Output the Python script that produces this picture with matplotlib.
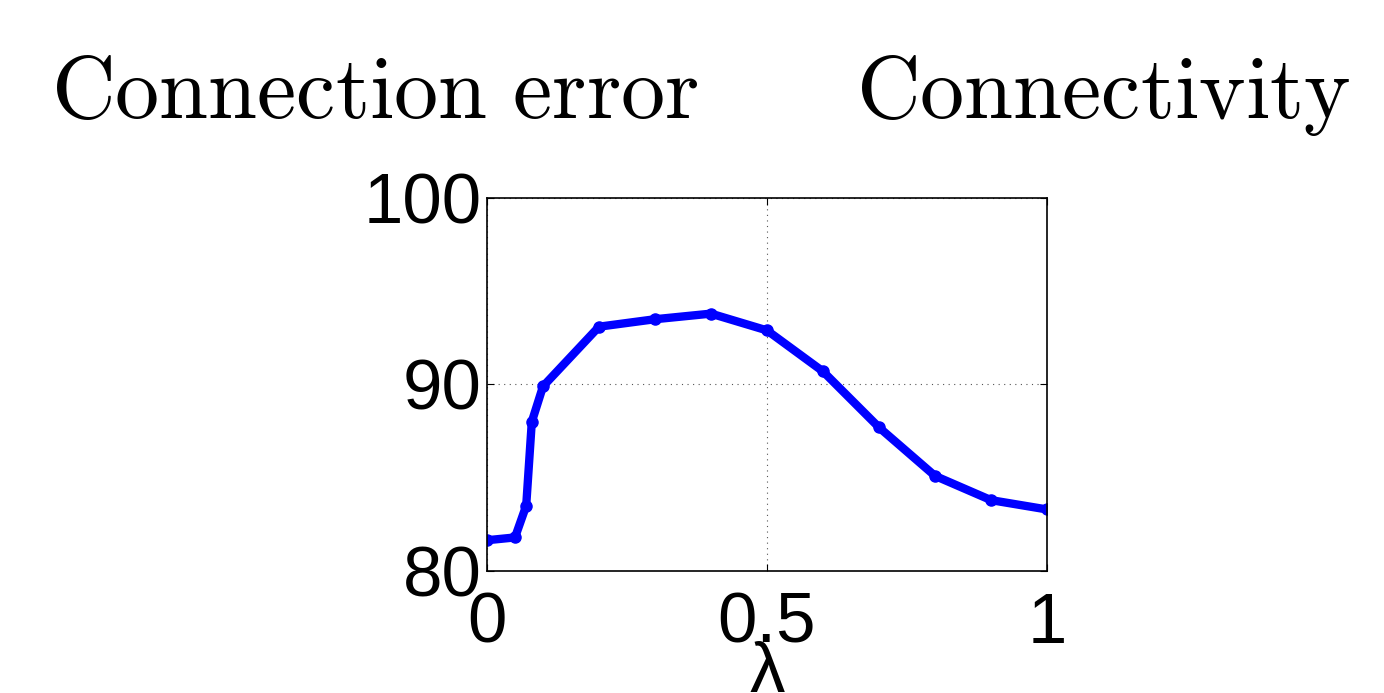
import matplotlib
matplotlib.use("Agg")
import matplotlib.pyplot as plt

plt.rcParams['mathtext.fontset'] = 'cm'
plt.rcParams['font.family'] = ['Liberation Sans', 'DejaVu Sans']

lam = [0.0, 0.05, 0.07, 0.08, 0.1, 0.2, 0.3, 0.4, 0.5, 0.6, 0.7, 0.8, 0.9, 1.0]
connectivity = [81.65, 81.8, 83.5, 88.0, 89.9, 93.1, 93.5, 93.8, 92.9, 90.7, 87.7, 85.1, 83.8, 83.3]
x_ticks = [0, 0.5, 1]
y_ticks = [80, 90, 100]

fig = plt.figure(figsize=(13.84, 6.93), dpi=100)
ax = fig.add_axes([487 / 1384, 1 - 571 / 693, 560 / 1384, 373 / 693])

ax.plot(lam, connectivity, color='#0000ff', lw=6, marker='o', ms=8)
ax.set_xlim(0, 1)
ax.set_ylim(80, 100)
ax.set_xticks(x_ticks)
ax.set_xticklabels(['0', '0.5', '1'])
ax.set_yticks(y_ticks)
ax.set_yticklabels(['80', '90', '100'])
ax.tick_params(direction='in', top=True, right=True, labelsize=51, length=5)
ax.tick_params(axis='x', pad=15)
ax.tick_params(axis='y', pad=4)
ax.grid(True, color='#555555', linestyle=(0, (1, 4)), lw=0.8)
for s in ax.spines.values():
    s.set_linewidth(1.2)

ax.set_xlabel('λ', fontsize=51, labelpad=-12)

fig.text(375 / 1384, 1 - 118 / 693, r'$\mathrm{Connection\ error}$', fontsize=63.5,
         ha='center', va='baseline')
fig.text(1103 / 1384, 1 - 118 / 693, r'$\mathrm{Connectivity}$', fontsize=63.5,
         ha='center', va='baseline')

fig.savefig('out.png', dpi=100)
